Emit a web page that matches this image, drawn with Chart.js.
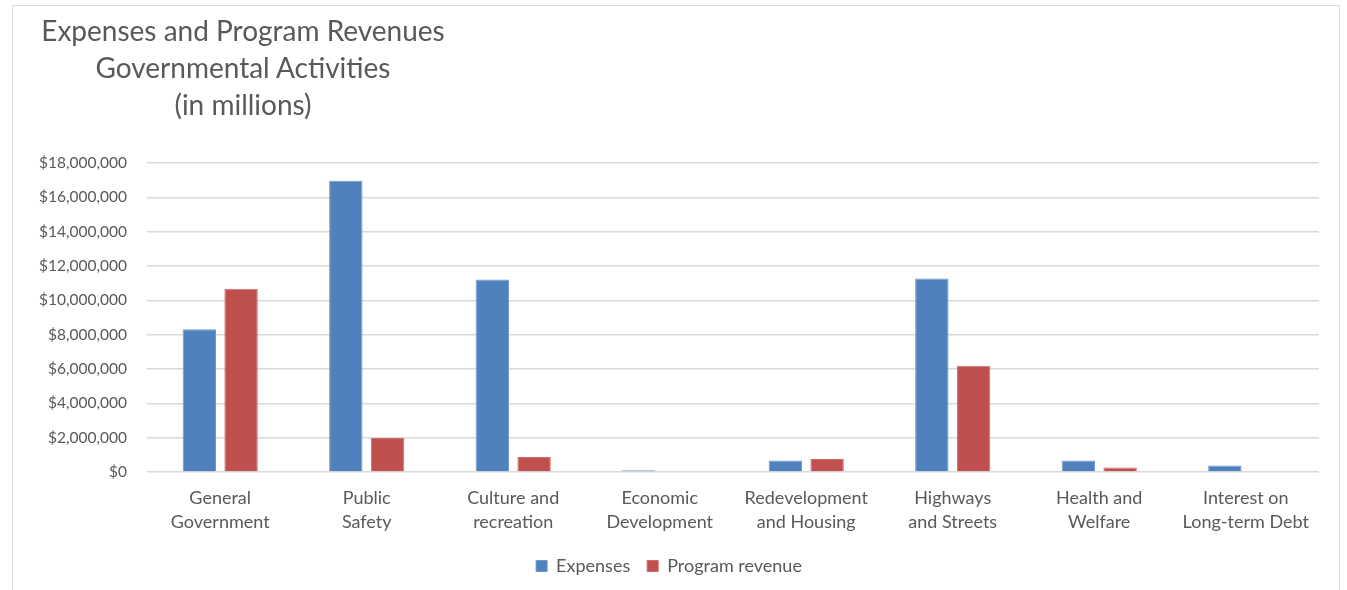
<!DOCTYPE html>
<html><head><meta charset="utf-8">
<script src="https://cdn.jsdelivr.net/npm/chart.js@4/dist/chart.umd.min.js"></script>
<style>
html,body{margin:0;padding:0;background:#fff;}
#wrap{position:relative;width:1347px;height:590px;}
#frame{position:absolute;left:12px;top:5px;width:1328px;height:600px;border:1px solid #d9d9d9;box-sizing:border-box;}
#title{position:absolute;left:23px;top:12px;width:440px;text-align:center;font-family:Lato,"Open Sans",sans-serif;font-size:28px;line-height:37px;color:#595959;}
canvas{position:absolute;left:0;top:0;}
</style></head>
<body>
<div id="wrap">
<div id="frame"></div>
<canvas id="c" width="1347" height="590"></canvas>
<div id="title">Expenses and Program Revenues<br>Governmental Activities<br>(in millions)</div>
</div>
<script>
const categories = [
  ["General","Government"],["Public","Safety"],["Culture and","recreation"],["Economic","Development"],
  ["Redevelopment","and Housing"],["Highways","and Streets"],["Health and","Welfare"],["Interest on","Long-term Debt"]
];
const expenses = [8320000, 16970000, 11220000, 110000, 680000, 11280000, 680000, 390000];
const programRevenue = [10680000, 1990000, 880000, 0, 760000, 6200000, 270000, 0];
const yMax = 18000000;
const yStep = 2000000;

const font = "Lato, 'Open Sans', sans-serif";
new Chart(document.getElementById('c'), {
  type: 'bar',
  data: {
    labels: categories,
    datasets: [
      {label:'Expenses', data: expenses, backgroundColor:'#4F81BD', borderColor:'#6f98cc', borderWidth:1, categoryPercentage:0.57, barPercentage:0.8},
      {label:'Program revenue', data: programRevenue, backgroundColor:'#C0504D', borderColor:'#cf6d6a', borderWidth:1, categoryPercentage:0.57, barPercentage:0.8}
    ]
  },
  options: {
    responsive:false, animation:false,
    layout:{padding:{left:19, right:28, top:163, bottom:5}},
    plugins:{
      legend:{position:'bottom', labels:{boxWidth:11, boxHeight:11, color:'#595959', font:{family:font,size:18}, padding:17}},
      title:{display:false}, tooltip:{enabled:false}
    },
    scales:{
      x:{grid:{display:false}, border:{display:false}, ticks:{color:'#595959', font:{family:font,size:18, lineHeight:1.33}, maxRotation:0, padding:6}},
      y:{min:0, max:yMax, ticks:{stepSize:yStep, color:'#595959', font:{family:font,size:15.5}, padding:20,
          callback:v=>'$'+Number(v).toLocaleString('en-US')},
         grid:{color:'#d9d9d9', lineWidth:1.5, drawTicks:false}, border:{display:false}}
    }
  }
});
</script>
</body></html>
